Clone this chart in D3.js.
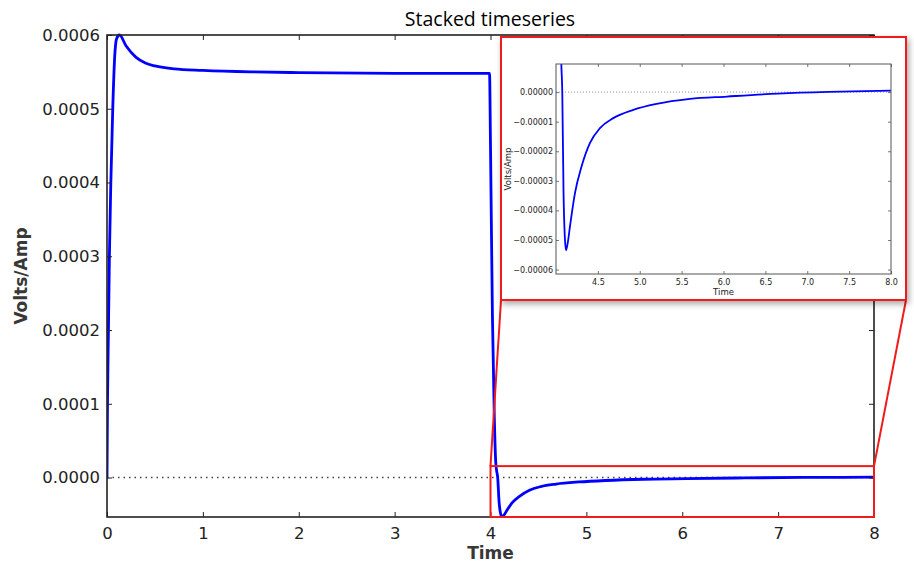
<!DOCTYPE html>
<html>
<head>
<meta charset="utf-8">
<script src="https://cdn.jsdelivr.net/npm/d3@7"></script>
<style>
  body { margin: 0; background: #fff; }
  svg { display: block; }
</style>
</head>
<body>
<div id="chart"></div>
<script>
// 데이터: 시간(초)과 Volts/Amp 값
const timeValues = [
  0, 0.005, 0.015, 0.025, 0.04, 0.06, 0.08, 0.1, 0.13, 0.2, 0.3, 0.4, 0.5, 0.7,
  1.0, 1.5, 2.0, 3.0, 3.99,
  4.0, 4.02, 4.04, 4.055, 4.063, 4.075, 4.09, 4.105, 4.12, 4.14, 4.167, 4.227, 4.306,
  4.406, 4.525, 4.684, 4.923, 5.2, 5.6, 6.04, 6.65, 7.25, 8.0
];
const voltsValues = [
  0, 0.0001, 0.0002, 0.0003, 0.0004, 0.0005, 0.00057, 0.000595, 0.0006, 0.000585,
  0.00057, 0.000562, 0.000558, 0.000554, 0.000552, 0.00055, 0.000549, 0.000548, 0.000548,
  0.00045, 0.00022, 0.00008, 0.00002, 0.00001, 0.0, -0.000034, -0.0000488, -0.0000535,
  -0.000051, -0.0000454, -0.0000341, -0.0000251, -0.0000172, -0.0000122, -0.0000088,
  -0.000006, -0.000004, -0.0000023, -0.0000015, -0.0000005, 0.0000001, 0.0000005
];

const mainXTicks = [0, 1, 2, 3, 4, 5, 6, 7, 8];
const mainYTicks = [0, 0.0001, 0.0002, 0.0003, 0.0004, 0.0005, 0.0006];
const insetXTicks = [4.5, 5.0, 5.5, 6.0, 6.5, 7.0, 7.5, 8.0];
const insetYTicks = [0, -0.00001, -0.00002, -0.00003, -0.00004, -0.00005, -0.00006];

const mainXDomain = [0, 8];
const mainYDomain = [-0.0000535, 0.0006];
const insetXDomain = [4.0, 8.0];
const insetYDomain = [-0.0000615, 0.0000095];
// 확대 영역 표시 박스 (데이터 좌표)
const zoomBoxX = [4.0, 8.0];
const zoomBoxY = [-0.0000535, 0.0000155];

const data = timeValues.map((t, i) => ({t: t, v: voltsValues[i]}));

const width = 914, height = 566;
const svg = d3.select("#chart").append("svg")
  .attr("width", width).attr("height", height);

const defs = svg.append("defs");
defs.append("filter").attr("id", "shadow")
  .attr("x", "-10%").attr("y", "-10%").attr("width", "125%").attr("height", "125%")
  .append("feDropShadow")
  .attr("dx", 2).attr("dy", 3).attr("stdDeviation", 3)
  .attr("flood-color", "#000").attr("flood-opacity", 0.35);

// 제목
svg.append("text")
  .attr("x", 490).attr("y", 26)
  .attr("text-anchor", "middle")
  .attr("font-family", "'Open Sans', Lato, sans-serif")
  .attr("font-size", 19.5)
  .attr("fill", "#000")
  .text("Stacked timeseries");

// 1. 메인 차트
const main = {left: 107, right: 874, top: 35, bottom: 517};
const x = d3.scaleLinear().domain(mainXDomain).range([main.left, main.right]);
const y = d3.scaleLinear().domain(mainYDomain).range([main.bottom, main.top]);

defs.append("clipPath").attr("id", "mainClip")
  .append("rect")
  .attr("x", main.left).attr("y", main.top - 2)
  .attr("width", main.right - main.left).attr("height", main.bottom - main.top + 2);

const font = "'DejaVu Sans', sans-serif";
const axisColor = "#222";

// 0 기준 점선
svg.append("line")
  .attr("x1", main.left).attr("x2", main.right)
  .attr("y1", y(0)).attr("y2", y(0))
  .attr("stroke", "#444").attr("stroke-width", 1.5)
  .attr("stroke-dasharray", "1.5,4");

const line = d3.line().x(d => x(d.t)).y(d => y(d.v)).curve(d3.curveMonotoneX);
svg.append("path")
  .datum(data)
  .attr("clip-path", "url(#mainClip)")
  .attr("fill", "none")
  .attr("stroke", "#0000ff")
  .attr("stroke-width", 2.8)
  .attr("d", line);

// 축 (틱은 안쪽으로)
const gx = svg.append("g").attr("transform", `translate(0,${main.bottom})`)
  .call(d3.axisBottom(x).tickValues(mainXTicks).tickFormat(d3.format("d")).tickSizeInner(-5).tickSizeOuter(0).tickPadding(10));
const gxTop = svg.append("g").attr("transform", `translate(0,${main.top})`)
  .call(d3.axisTop(x).tickValues(mainXTicks).tickFormat("").tickSizeInner(-5).tickSizeOuter(0));
const gy = svg.append("g").attr("transform", `translate(${main.left},0)`)
  .call(d3.axisLeft(y).tickValues(mainYTicks).tickFormat(d3.format(".4f")).tickSizeInner(-5).tickSizeOuter(0).tickPadding(7));
const gyRight = svg.append("g").attr("transform", `translate(${main.right},0)`)
  .call(d3.axisRight(y).tickValues(mainYTicks).tickFormat("").tickSizeInner(-5).tickSizeOuter(0));

[gx, gxTop, gy, gyRight].forEach(g => {
  g.select(".domain").remove();
  g.selectAll(".tick line").attr("stroke", axisColor).attr("stroke-width", 1);
  g.selectAll("text").attr("font-family", font).attr("font-size", 16.5).attr("fill", axisColor);
});

svg.append("rect")
  .attr("x", main.left).attr("y", main.top)
  .attr("width", main.right - main.left).attr("height", main.bottom - main.top)
  .attr("fill", "none").attr("stroke", axisColor).attr("stroke-width", 1.6);

svg.append("text")
  .attr("x", (main.left + main.right) / 2).attr("y", 559)
  .attr("text-anchor", "middle")
  .attr("font-family", font).attr("font-size", 17).attr("font-weight", "bold")
  .attr("fill", "#383838")
  .text("Time");

svg.append("text")
  .attr("transform", `translate(27,${(main.top + main.bottom) / 2}) rotate(-90)`)
  .attr("text-anchor", "middle")
  .attr("font-family", font).attr("font-size", 17).attr("font-weight", "bold")
  .attr("fill", "#383838")
  .text("Volts/Amp");

// 2. 확대 박스와 연결선
const zx0 = x(zoomBoxX[0]), zx1 = x(zoomBoxX[1]);
const zy0 = y(zoomBoxY[1]), zy1 = y(zoomBoxY[0]);
const red = "#ee1c1c";

svg.append("rect")
  .attr("x", zx0).attr("y", zy0)
  .attr("width", zx1 - zx0).attr("height", zy1 - zy0)
  .attr("fill", "none").attr("stroke", red).attr("stroke-width", 2);

const box = {left: 501, right: 906, top: 37, bottom: 300};

svg.append("line")
  .attr("x1", zx0).attr("y1", zy0).attr("x2", box.left).attr("y2", box.bottom)
  .attr("stroke", red).attr("stroke-width", 2);
svg.append("line")
  .attr("x1", zx1).attr("y1", zy0).attr("x2", box.right).attr("y2", box.bottom)
  .attr("stroke", red).attr("stroke-width", 2);

// 3. 인셋 차트
svg.append("rect")
  .attr("x", box.left).attr("y", box.top)
  .attr("width", box.right - box.left).attr("height", box.bottom - box.top)
  .attr("fill", "#fff").attr("stroke", red).attr("stroke-width", 2)
  .attr("filter", "url(#shadow)");

const ins = {left: 556, right: 891, top: 64, bottom: 274};
const ix = d3.scaleLinear().domain(insetXDomain).range([ins.left, ins.right]);
const iy = d3.scaleLinear().domain(insetYDomain).range([ins.bottom, ins.top]);

defs.append("clipPath").attr("id", "insetClip")
  .append("rect")
  .attr("x", ins.left).attr("y", ins.top)
  .attr("width", ins.right - ins.left).attr("height", ins.bottom - ins.top);

svg.append("line")
  .attr("x1", ins.left).attr("x2", ins.right)
  .attr("y1", iy(0)).attr("y2", iy(0))
  .attr("stroke", "#777").attr("stroke-width", 0.8)
  .attr("stroke-dasharray", "1,2");

const insetLine = d3.line().x(d => ix(d.t)).y(d => iy(d.v)).curve(d3.curveMonotoneX);
svg.append("path")
  .datum(data.filter(d => d.t >= 3.99))
  .attr("clip-path", "url(#insetClip)")
  .attr("fill", "none")
  .attr("stroke", "#0000ff")
  .attr("stroke-width", 1.8)
  .attr("d", insetLine);

const igx = svg.append("g").attr("transform", `translate(0,${ins.bottom})`)
  .call(d3.axisBottom(ix).tickValues(insetXTicks).tickFormat(d3.format(".1f")).tickSizeInner(-3).tickSizeOuter(0).tickPadding(5));
const igxTop = svg.append("g").attr("transform", `translate(0,${ins.top})`)
  .call(d3.axisTop(ix).tickValues(insetXTicks).tickFormat("").tickSizeInner(-3).tickSizeOuter(0));
const igy = svg.append("g").attr("transform", `translate(${ins.left},0)`)
  .call(d3.axisLeft(iy).tickValues(insetYTicks).tickFormat(d3.format(".5f")).tickSizeInner(-3).tickSizeOuter(0).tickPadding(3));
const igyRight = svg.append("g").attr("transform", `translate(${ins.right},0)`)
  .call(d3.axisRight(iy).tickValues(insetYTicks).tickFormat("").tickSizeInner(-3).tickSizeOuter(0));

[igx, igxTop, igy, igyRight].forEach(g => {
  g.select(".domain").remove();
  g.selectAll(".tick line").attr("stroke", "#555").attr("stroke-width", 0.8);
  g.selectAll("text").attr("font-family", font).attr("font-size", 8).attr("fill", "#222");
});

svg.append("rect")
  .attr("x", ins.left).attr("y", ins.top)
  .attr("width", ins.right - ins.left).attr("height", ins.bottom - ins.top)
  .attr("fill", "none").attr("stroke", "#555").attr("stroke-width", 1);

svg.append("text")
  .attr("x", (ins.left + ins.right) / 2).attr("y", 295)
  .attr("text-anchor", "middle")
  .attr("font-family", font).attr("font-size", 8.5)
  .attr("fill", "#222")
  .text("Time");

svg.append("text")
  .attr("transform", `translate(511,${(ins.top + ins.bottom) / 2}) rotate(-90)`)
  .attr("text-anchor", "middle")
  .attr("font-family", font).attr("font-size", 8.5)
  .attr("fill", "#222")
  .text("Volts/Amp");
</script>
</body>
</html>
